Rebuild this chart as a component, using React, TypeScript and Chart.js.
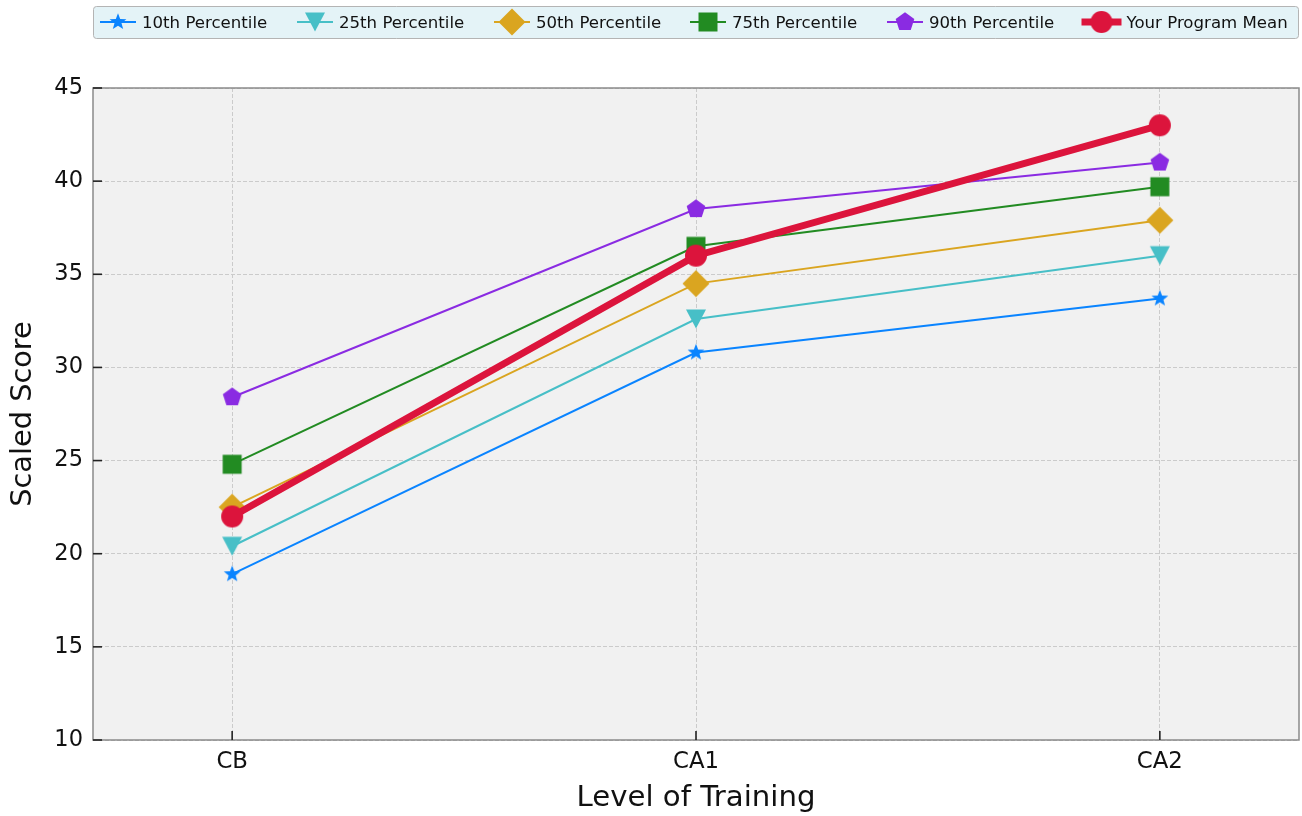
import React, { useEffect, useRef } from "react";
import { Chart, registerables } from "chart.js";

Chart.register(...registerables);

// ---------------- Data ----------------
const categories = ["CB", "CA1", "CA2"];
const p10 = [18.9, 30.8, 33.7];
const p25 = [20.4, 32.6, 36.0];
const p50 = [22.5, 34.5, 37.9];
const p75 = [24.8, 36.5, 39.7];
const p90 = [28.4, 38.5, 41.0];
const programMean = [22.0, 36.0, 43.0];
const seriesLabels = [
  "10th Percentile",
  "25th Percentile",
  "50th Percentile",
  "75th Percentile",
  "90th Percentile",
  "Your Program Mean",
];
const yTickValues = [10, 15, 20, 25, 30, 35, 40, 45];

// ---------------- Styles ----------------
const FONT = "'DejaVu Sans', 'Liberation Sans', sans-serif";
const seriesColors = ["#0a84ff", "#47bfc7", "#daa520", "#228b22", "#8a2be2", "#dc143c"];
const seriesShapes = ["star", "tridown", "diamond", "square", "pentagon", "circle"];
const seriesWidths = [2, 2, 2, 2, 2, 7];
const MARKER_CANVAS = 32;

function makeMarker(shape: string, color: string): HTMLCanvasElement {
  const c = document.createElement("canvas");
  c.width = MARKER_CANVAS;
  c.height = MARKER_CANVAS;
  const ctx = c.getContext("2d")!;
  ctx.fillStyle = color;
  ctx.translate(MARKER_CANVAS / 2, MARKER_CANVAS / 2);
  ctx.beginPath();
  if (shape === "star") {
    const R = 8.8;
    const r = R * 0.42;
    for (let i = 0; i < 10; i++) {
      const a = -Math.PI / 2 + (i * Math.PI) / 5;
      const rad = i % 2 === 0 ? R : r;
      const x = Math.cos(a) * rad;
      const y = Math.sin(a) * rad;
      if (i === 0) ctx.moveTo(x, y);
      else ctx.lineTo(x, y);
    }
    ctx.closePath();
  } else if (shape === "tridown") {
    ctx.moveTo(-10, -9.5);
    ctx.lineTo(10, -9.5);
    ctx.lineTo(0, 9.5);
    ctx.closePath();
  } else if (shape === "diamond") {
    const d = 13.5;
    ctx.moveTo(0, -d);
    ctx.lineTo(d, 0);
    ctx.lineTo(0, d);
    ctx.lineTo(-d, 0);
    ctx.closePath();
  } else if (shape === "square") {
    ctx.rect(-9.5, -9.5, 19, 19);
  } else if (shape === "pentagon") {
    const R = 9.8;
    for (let i = 0; i < 5; i++) {
      const a = -Math.PI / 2 + (i * 2 * Math.PI) / 5;
      const x = Math.cos(a) * R;
      const y = Math.sin(a) * R;
      if (i === 0) ctx.moveTo(x, y);
      else ctx.lineTo(x, y);
    }
    ctx.closePath();
  } else {
    ctx.arc(0, 0, 11, 0, Math.PI * 2);
  }
  ctx.fill();
  return c;
}

// legend item marker centres (layout)
const legendCenters = [118, 315, 512, 708, 905, 1101.5];

export default function App() {
  const canvasRef = useRef<HTMLCanvasElement | null>(null);

  useEffect(() => {
    document.body.style.margin = "0";
    const canvas = canvasRef.current;
    if (!canvas) return;

    const markers = seriesColors.map((col, i) => makeMarker(seriesShapes[i], col));
    const allSeries = [p10, p25, p50, p75, p90, programMean];

    const datasets = allSeries.map((vals, i) => ({
      label: seriesLabels[i],
      data: vals.map((v, j) => ({ x: j, y: v })),
      borderColor: seriesColors[i],
      backgroundColor: seriesColors[i],
      borderWidth: seriesWidths[i],
      pointStyle: markers[i] as any,
      pointRadius: 12,
      pointHoverRadius: 12,
      order: allSeries.length - i,
      tension: 0,
      clip: false as any,
    }));

    const decor = {
      id: "decor",
      beforeDraw(chart: any) {
        const { ctx, chartArea: a } = chart;
        ctx.save();
        ctx.fillStyle = "#ffffff";
        ctx.fillRect(0, 0, chart.width, chart.height);
        ctx.fillStyle = "#f1f1f1";
        ctx.fillRect(a.left, a.top, a.right - a.left, a.bottom - a.top);
        ctx.restore();
      },
      afterDraw(chart: any) {
        const { ctx, chartArea: a, scales } = chart;
        ctx.save();
        // spines
        ctx.strokeStyle = "#8a8a8a";
        ctx.lineWidth = 1.5;
        ctx.strokeRect(a.left, a.top, a.right - a.left, a.bottom - a.top);
        // inward ticks
        ctx.strokeStyle = "#222222";
        ctx.lineWidth = 1.6;
        yTickValues.forEach((v) => {
          const y = scales.y.getPixelForValue(v);
          ctx.beginPath();
          ctx.moveTo(a.left, y);
          ctx.lineTo(a.left + 9, y);
          ctx.stroke();
        });
        categories.forEach((_, i) => {
          const x = scales.x.getPixelForValue(i);
          ctx.beginPath();
          ctx.moveTo(x, a.bottom);
          ctx.lineTo(x, a.bottom - 9);
          ctx.stroke();
        });

        // legend box
        const bx = 93.5, by = 6.5, bw = 1205, bh = 32, br = 3;
        ctx.beginPath();
        ctx.moveTo(bx + br, by);
        ctx.lineTo(bx + bw - br, by);
        ctx.arcTo(bx + bw, by, bx + bw, by + br, br);
        ctx.lineTo(bx + bw, by + bh - br);
        ctx.arcTo(bx + bw, by + bh, bx + bw - br, by + bh, br);
        ctx.lineTo(bx + br, by + bh);
        ctx.arcTo(bx, by + bh, bx, by + bh - br, br);
        ctx.lineTo(bx, by + br);
        ctx.arcTo(bx, by, bx + br, by, br);
        ctx.closePath();
        ctx.fillStyle = "#e4f3f7";
        ctx.fill();
        ctx.strokeStyle = "#b4b4b4";
        ctx.lineWidth = 1;
        ctx.stroke();

        const ly = 22;
        seriesLabels.forEach((label, i) => {
          const cx = legendCenters[i];
          const half = i === 5 ? 20 : 18;
          ctx.beginPath();
          ctx.strokeStyle = seriesColors[i];
          ctx.lineWidth = seriesWidths[i];
          ctx.moveTo(cx - half, ly);
          ctx.lineTo(cx + half, ly);
          ctx.stroke();
          ctx.drawImage(markers[i], cx - MARKER_CANVAS / 2, ly - MARKER_CANVAS / 2);
          ctx.fillStyle = "#111111";
          ctx.font = `16.6px ${FONT}`;
          ctx.textBaseline = "alphabetic";
          ctx.textAlign = "left";
          ctx.fillText(label, cx + (i === 5 ? 25 : 24), 27.8);
        });
        ctx.restore();
      },
    };

    const chart = new Chart(canvas, {
      type: "line",
      data: { datasets: datasets as any },
      plugins: [decor],
      options: {
        animation: false,
        responsive: false,
        maintainAspectRatio: false,
        layout: { autoPadding: false, padding: { top: 88, right: 3, left: 0, bottom: 0 } },
        plugins: {
          legend: { display: false },
          tooltip: { enabled: false },
          title: { display: false },
        },
        scales: {
          x: {
            type: "linear",
            min: -0.3,
            max: 2.3,
            afterBuildTicks: (scale: any) => {
              scale.ticks = categories.map((_, i) => ({ value: i }));
            },
            afterFit: (scale: any) => {
              scale.height = 76;
              scale.paddingLeft = 0;
              scale.paddingRight = 0;
            },
            ticks: {
              padding: 8,
              color: "#111111",
              font: { family: FONT, size: 22.8 },
              callback: (v: any) => categories[Math.round(Number(v))] ?? "",
              maxRotation: 0,
              autoSkip: false,
            },
            grid: { color: "#cbcbcb", lineWidth: 1, drawTicks: false },
            border: { display: false, dash: [4, 2] },
            title: {
              display: true,
              text: "Level of Training",
              color: "#111111",
              font: { family: FONT, size: 29.2 },
              padding: { top: 0, bottom: 0 },
            },
          },
          y: {
            type: "linear",
            min: 10,
            max: 45,
            afterBuildTicks: (scale: any) => {
              scale.ticks = yTickValues.map((v) => ({ value: v }));
            },
            afterFit: (scale: any) => {
              scale.width = 93;
              scale.paddingTop = 0;
              scale.paddingBottom = 0;
            },
            ticks: {
              padding: 10,
              color: "#111111",
              font: { family: FONT, size: 22.5 },
              autoSkip: false,
            },
            grid: { color: "#cbcbcb", lineWidth: 1, drawTicks: false },
            border: { display: false, dash: [4, 2] },
            title: {
              display: true,
              text: "Scaled Score",
              color: "#111111",
              font: { family: FONT, size: 28.8 },
              padding: { top: 6, bottom: 0 },
            },
          },
        },
      },
    });

    return () => {
      chart.destroy();
    };
  }, []);

  return (
    <div style={{ position: "absolute", left: 0, top: 0, width: 1302, height: 816 }}>
      <canvas ref={canvasRef} width={1302} height={816} style={{ display: "block" }} />
    </div>
  );
}
